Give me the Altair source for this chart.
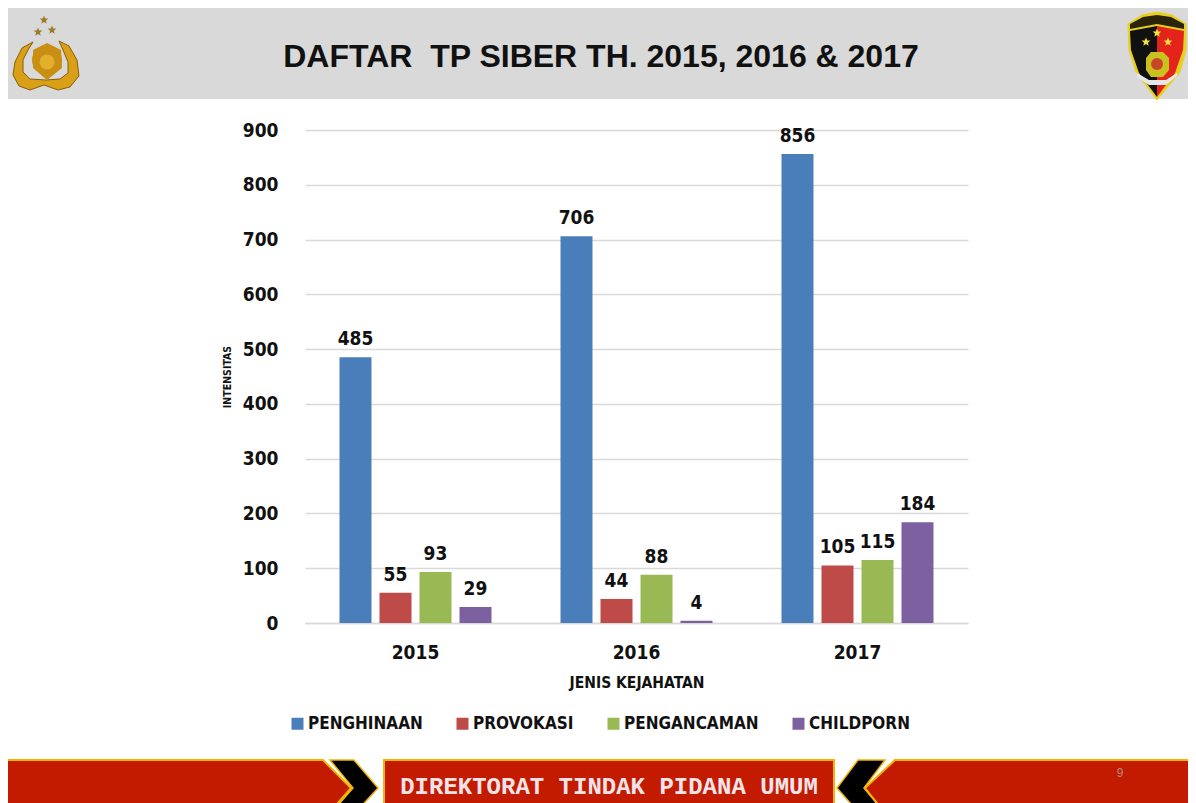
import altair as alt
import pandas as pd

years = ["2015", "2016", "2017"]
series = ["PENGHINAAN", "PROVOKASI", "PENGANCAMAN", "CHILDPORN"]
colors = ["#4a7ebb", "#be4b48", "#98b954", "#7d60a0"]
penghinaan = [485, 706, 856]
provokasi = [55, 44, 105]
pengancaman = [93, 88, 115]
childporn = [29, 4, 184]

title_text = "DAFTAR\u00a0\u00a0TP SIBER TH. 2015, 2016 & 2017"
footer_text = "DIREKTORAT TINDAK PIDANA UMUM"
page_no = "9"
NARROW = "DejaVu Sans Condensed, Roboto Condensed, Roboto, sans-serif"

rows = []
for s, vals in zip(series, [penghinaan, provokasi, pengancaman, childporn]):
    for y, v in zip(years, vals):
        rows.append({"year": y, "series": s, "value": v})
df = pd.DataFrame(rows)

PX, PY = 305, 130      # plot origin on the page
W, H = 663, 493
one = pd.DataFrame({"a": [0]})


def poly(points, fill, stroke=None, sw=0):
    """Decorative outline in page pixels, as a custom symbol."""
    cx, cy, r = 600, 400, 700
    path = "M" + "L".join(f"{(x-cx)/r:.5f},{(y-cy)/r:.5f}" for x, y in points) + "Z"
    kw = dict(shape=path, size=(2 * r) ** 2, filled=True, fill=fill, opacity=1)
    kw["stroke"] = stroke if stroke else fill
    kw["strokeWidth"] = sw
    kw["strokeJoin"] = "miter"
    return alt.Chart(one).mark_point(**kw).encode(
        x=alt.value(cx - PX), y=alt.value(cy - PY))


def star(cx, cy, r, fill):
    pts = []
    outer = [(0, -1), (.95, -.31), (.59, .81), (-.59, .81), (-.95, -.31)]
    inner = [(.27, -.36), (.43, .14), (0, .45), (-.43, .14), (-.27, -.36)]
    for o, i in zip(outer, inner):
        pts += [(cx + o[0]*r, cy + o[1]*r), (cx + i[0]*r, cy + i[1]*r)]
    return poly(pts, fill)


def dot(cx, cy, d, fill):
    return alt.Chart(one).mark_point(shape="circle", size=d*d, filled=True, fill=fill, opacity=1).encode(
        x=alt.value(cx - PX), y=alt.value(cy - PY))


def label(text, x, y, **kw):
    return alt.Chart(one).mark_text(text=text, **kw).encode(
        x=alt.value(x - PX), y=alt.value(y - PY))


header = alt.Chart(one).mark_rect(color="#d9d9d9").encode(
    x=alt.value(8 - PX), x2=alt.value(1196 - PX), y=alt.value(8 - PY), y2=alt.value(99 - PY))

GOLD, DGOLD = "#d9a017", "#8a5c0a"
wreath = [poly([(33, 42), (22, 48), (15, 62), (13, 75), (19, 86), (30, 90), (44, 85), (58, 90), (70, 87), (79, 76),
                (77, 60), (69, 46), (59, 41), (63, 50), (68, 62), (68, 73), (60, 79), (46, 80), (30, 79), (23, 72),
                (23, 60), (28, 50)], GOLD, DGOLD, 1),
          dot(47, 60, 30, "#c98f12"),
          poly([(33, 50), (47, 43), (61, 50), (62, 68), (47, 80), (33, 68)], "#c98f12"),
          dot(47, 62, 15, "#e3b02c"),
          star(44, 20, 4.5, "#9c7a28"), star(38, 32, 4.5, "#9c7a28"), star(52, 30, 4.5, "#9c7a28")]

# the canvas ends at x=1188, so the shield sits just inside it
SX = -6
shield = [poly([(1134+SX, 24), (1148+SX, 15), (1163+SX, 12), (1178+SX, 15), (1192+SX, 24), (1192+SX, 50), (1186+SX, 72), (1163+SX, 100),
                (1142+SX, 72), (1135+SX, 50)], "#e8d020", "#e8d020", 1),
          poly([(1136+SX, 31), (1163+SX, 26), (1163+SX, 97), (1145+SX, 73), (1137+SX, 50)], "#111111"),
          poly([(1190+SX, 31), (1163+SX, 26), (1163+SX, 97), (1181+SX, 73), (1189+SX, 50)], "#e4231a"),
          poly([(1136+SX, 24), (1149+SX, 17), (1163+SX, 15), (1177+SX, 17), (1190+SX, 24), (1190+SX, 29), (1163+SX, 24), (1136+SX, 29)], "#2a2408"),
          star(1163+SX, 33, 4.5, "#f2e23a"), star(1152+SX, 42, 4.5, "#f2e23a"), star(1174+SX, 42, 4.5, "#f2e23a"),
          poly([(1157+SX, 52), (1169+SX, 52), (1175+SX, 58), (1175+SX, 70), (1169+SX, 77), (1157+SX, 77), (1152+SX, 70), (1152+SX, 58)], "#c9c21e"),
          dot(1163+SX, 64, 12, "#c8452a"),
          poly([(1143+SX, 73), (1155+SX, 80), (1172+SX, 80), (1183+SX, 73), (1183+SX, 76), (1172+SX, 85), (1155+SX, 85), (1143+SX, 77)], "#e6e6e6")]

FR, FB = "#c21b00", "#f2b400"
footer = [
    poly([(4, 760), (323, 760), (351, 788), (330, 812), (4, 812)], FR, FB, 2),
    poly([(330, 760), (354, 760), (378, 788), (356, 812), (332, 812), (353, 788)], "#000000", FB, 1.5),
    poly([(384, 760), (834, 760), (834, 812), (384, 812)], FR, FB, 2),
    poly([(858, 760), (885, 760), (864, 788), (884, 812), (858, 812), (837, 788)], "#000000", FB, 1.5),
    poly([(895, 760), (1200, 760), (1200, 812), (884, 812), (865, 788)], FR, FB, 2),
]

texts = [
    label(title_text, 601, 57, font="Liberation Sans", fontWeight="bold", fontSize=32, color="#111111",
          align="center", baseline="middle"),
    label(footer_text, 609, 787, font="Liberation Mono", fontWeight="bold", fontSize=24, color="#f4e4ea",
          align="center", baseline="middle"),
    label(page_no, 1120, 773, font="Liberation Sans", fontSize=12, color="#b98a80", align="center", baseline="middle"),
]

x_enc = alt.X("year:N", sort=years, scale=alt.Scale(paddingInner=0.276, paddingOuter=0.138),
              axis=alt.Axis(title="JENIS KEJAHATAN", labelAngle=0, ticks=False, domainColor="#d9d9d9", domainWidth=1.5,
                            labelFont=NARROW, labelFontWeight="bold", labelFontSize=19, labelColor="#111111",
                            labelPadding=20, titleFont=NARROW, titleFontWeight="bold", titleFontSize=15.5,
                            titleColor="#111111", titlePadding=13))
y_enc = alt.Y("value:Q", scale=alt.Scale(domain=[0, 900], nice=False),
              axis=alt.Axis(title="INTENSITAS", values=list(range(0, 901, 100)), domain=False, ticks=False,
                            gridColor="#d9d9d9", gridWidth=1.5, labelFont=NARROW, labelFontWeight="bold",
                            labelFontSize=19, labelColor="#111111", labelPadding=27, titleFont=NARROW,
                            titleFontWeight="bold", titleFontSize=10.5, titleColor="#111111", titlePadding=10))
off = alt.XOffset("series:N", sort=series, scale=alt.Scale(paddingInner=0.2, paddingOuter=0.1))

bars = alt.Chart(df).mark_bar().encode(
    x=x_enc, y=y_enc, xOffset=off,
    color=alt.Color("series:N", sort=series, scale=alt.Scale(domain=series, range=colors),
                    legend=alt.Legend(title=None, orient="none", legendX=-16, legendY=585, direction="horizontal",
                                      columns=4, columnPadding=31, symbolType="square", symbolSize=144,
                                      symbolStrokeWidth=0, symbolOpacity=1, labelFont=NARROW, labelFontWeight="bold",
                                      labelFontSize=17, labelColor="#111111", labelOffset=2)))
vals = alt.Chart(df).mark_text(font=NARROW, fontWeight="bold", fontSize=19, color="#111111", baseline="bottom", dy=-8).encode(
    x=alt.X("year:N", sort=years), y="value:Q", xOffset=off, text="value:Q")

chart = alt.layer(header, *wreath, *shield, *footer, bars, vals, *texts).properties(
    width=W, height=H,
    autosize=alt.AutoSizeParams(type="none"),
    padding={"left": PX - 8, "top": PY - 8, "right": 1188 - PX - W, "bottom": 803 - PY - H},
    background="#ffffff",
).configure_view(stroke=None)

chart.save("out.html", embed_options={"renderer": "svg", "actions": False})
